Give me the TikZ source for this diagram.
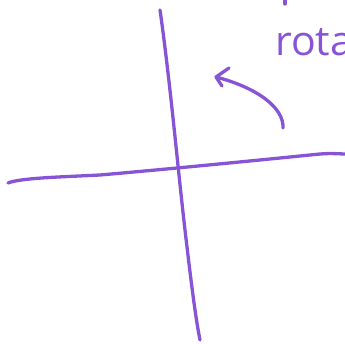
\documentclass[tikz,border=0pt]{standalone}
\usepackage{fontspec}
\newfontfamily\handfont{Open Sans}
\definecolor{ink}{RGB}{136,84,214}
\tikzset{stroke/.style={draw=ink,line width=3.3pt,line cap=round,line join=round}}
\begin{document}
\begin{tikzpicture}[x=1pt,y=-1pt]
\useasboundingbox (0,0) rectangle (345,343);
\clip (0,0) rectangle (345,343);
% axes
\coordinate (vt) at (160,10);
\coordinate (vb) at (200,340);
\coordinate (hl) at (8,183);
\coordinate (hr) at (345,154);
\draw[stroke] (vt) .. controls (170,80) and (178,170) .. (185,230) .. controls (192,290) and (196,320) .. (vb);
\draw[stroke] (hl) .. controls (20,178) and (60,177) .. (100,175) .. controls (180,168) and (260,160) .. (320,154) .. controls (332,153) and (340,154) .. (hr);
% rotation arrow
\coordinate (at) at (283,128);
\coordinate (ah) at (216,77);
\draw[stroke] (at) .. controls (284,108) and (258,88) .. (ah);
\draw[stroke] (229,68) -- (ah) -- (222,86);
% text
\node[text=ink,anchor=base west,inner sep=0pt,font=\handfont\fontsize{41}{41}\selectfont] (lbl) at (275,55) {rota};
\draw[stroke] (285,0) -- (285,4);
\end{tikzpicture}
\end{document}
